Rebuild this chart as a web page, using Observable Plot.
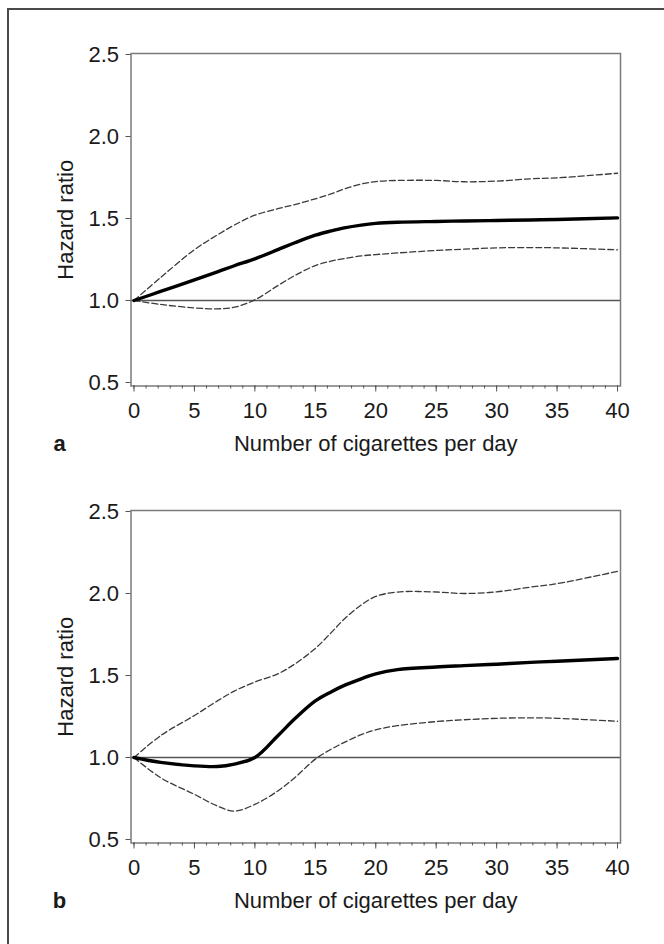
<!DOCTYPE html>
<html>
<head>
<meta charset="utf-8">
<script src="https://cdn.jsdelivr.net/npm/d3@7"></script>
<script src="https://cdn.jsdelivr.net/npm/@observablehq/plot@0.6"></script>
<style>
  html, body { margin: 0; padding: 0; background: #fff; overflow: hidden; width: 664px; height: 944px; }
  #outer { position: absolute; left: 7px; top: 8px; width: 800px; height: 1100px;
           border-left: 2px solid #4a4a4a; border-top: 2px solid #4a4a4a; }
  .panel { position: absolute; left: 0; }
  #pa { top: 0; }
  #pb { top: 457px; }
</style>
</head>
<body>
<div id="outer"></div>
<div id="pa" class="panel"></div>
<div id="pb" class="panel"></div>
<script>
// Cigarettes per day (x positions where the curves were read)
const xs = [0, 2.2, 5, 6.9, 8.3, 10, 11.9, 13.3, 15, 16.3, 17.4, 18.8, 20, 21.8, 25, 27.3, 30, 32.8, 35, 40];

// Panel a
const aHR = [1.0, 1.055, 1.126, 1.175, 1.212, 1.254, 1.31, 1.352, 1.398, 1.424, 1.443, 1.46, 1.47, 1.477, 1.482, 1.485, 1.488, 1.491, 1.494, 1.504];
const aUp = [1.0, 1.14, 1.31, 1.40, 1.46, 1.52, 1.56, 1.585, 1.62, 1.65, 1.68, 1.71, 1.725, 1.732, 1.732, 1.724, 1.728, 1.742, 1.748, 1.776];
const aLo = [1.0, 0.976, 0.955, 0.949, 0.959, 1.004, 1.091, 1.152, 1.213, 1.240, 1.256, 1.272, 1.280, 1.290, 1.305, 1.313, 1.321, 1.323, 1.321, 1.309];

// Panel b
const bHR = [1.0, 0.97, 0.949, 0.945, 0.96, 1.0, 1.133, 1.236, 1.345, 1.40, 1.44, 1.48, 1.51, 1.536, 1.552, 1.56, 1.569, 1.58, 1.587, 1.604];
const bUp = [1.0, 1.133, 1.256, 1.345, 1.405, 1.46, 1.51, 1.57, 1.665, 1.76, 1.845, 1.93, 1.982, 2.009, 2.009, 2.0, 2.01, 2.039, 2.06, 2.135];
const bLo = [1.0, 0.877, 0.775, 0.704, 0.673, 0.714, 0.796, 0.877, 0.99, 1.05, 1.092, 1.139, 1.168, 1.194, 1.219, 1.23, 1.239, 1.242, 1.239, 1.221];

// Axis ticks and texts
const xMajor = [0, 5, 10, 15, 20, 25, 30, 35, 40];
const xMinor = d3.range(0, 41, 1);
const yTicks = [0.5, 1.0, 1.5, 2.0, 2.5];
const xTitle = "Number of cigarettes per day";
const yTitle = "Hazard ratio";
const refValue = 1;

function makePanel(tag, hr, up, lo) {
  const rows = (arr) => xs.map((x, i) => ({x, y: arr[i]}));
  return Plot.plot({
    width: 664,
    height: 457,
    marginLeft: 130.5,
    marginRight: 44,
    marginTop: 53,
    marginBottom: 71.5,
    style: {
      fontFamily: "'Liberation Sans', Arial, Helvetica, sans-serif",
      fontSize: "22px",
      background: "transparent",
      color: "#1a1a1a",
      overflow: "visible"
    },
    x: {domain: [0, 40], insetLeft: 3, insetRight: 3, label: null},
    y: {domain: [0.5, 2.5], insetTop: 1, insetBottom: 3.5, label: null},
    marks: [
      Plot.ruleY([refValue], {stroke: "#555", strokeWidth: 1.3}),
      Plot.line(rows(up), {x: "x", y: "y", stroke: "#3a3a3a", strokeWidth: 1.3, strokeDasharray: "6,3", curve: "catmull-rom"}),
      Plot.line(rows(lo), {x: "x", y: "y", stroke: "#3a3a3a", strokeWidth: 1.3, strokeDasharray: "6,3", curve: "catmull-rom"}),
      Plot.line(rows(hr), {x: "x", y: "y", stroke: "#000", strokeWidth: 3.4, curve: "catmull-rom"}),
      Plot.frame({stroke: "#7a7a7a", strokeWidth: 1.5}),
      Plot.axisY({ticks: yTicks, tickSize: 5, tickPadding: 7, tickFormat: d => d.toFixed(1), label: null, stroke: "#555"}),
      Plot.axisX({ticks: xMinor, tickSize: 3, tickFormat: () => "", label: null, stroke: "#555"}),
      Plot.axisX({ticks: xMajor, tickSize: 6, tickPadding: 10, tickFormat: d => String(d), label: null, stroke: "#555"}),
      Plot.text([xTitle], {text: d => d, frameAnchor: "bottom", dy: 64.5, lineAnchor: "bottom", fill: "#1a1a1a"}),
      Plot.text([tag], {text: d => d, frameAnchor: "bottom-left", dx: -71.5, dy: 64.5, lineAnchor: "bottom", textAnchor: "middle", fontWeight: "bold", fill: "#1a1a1a"}),
      Plot.text([yTitle], {text: d => d, frameAnchor: "left", dx: -65.5, rotate: -90, textAnchor: "middle", lineAnchor: "middle", fill: "#1a1a1a"})
    ]
  });
}

document.getElementById("pa").appendChild(makePanel("a", aHR, aUp, aLo));
document.getElementById("pb").appendChild(makePanel("b", bHR, bUp, bLo));
</script>
</body>
</html>
